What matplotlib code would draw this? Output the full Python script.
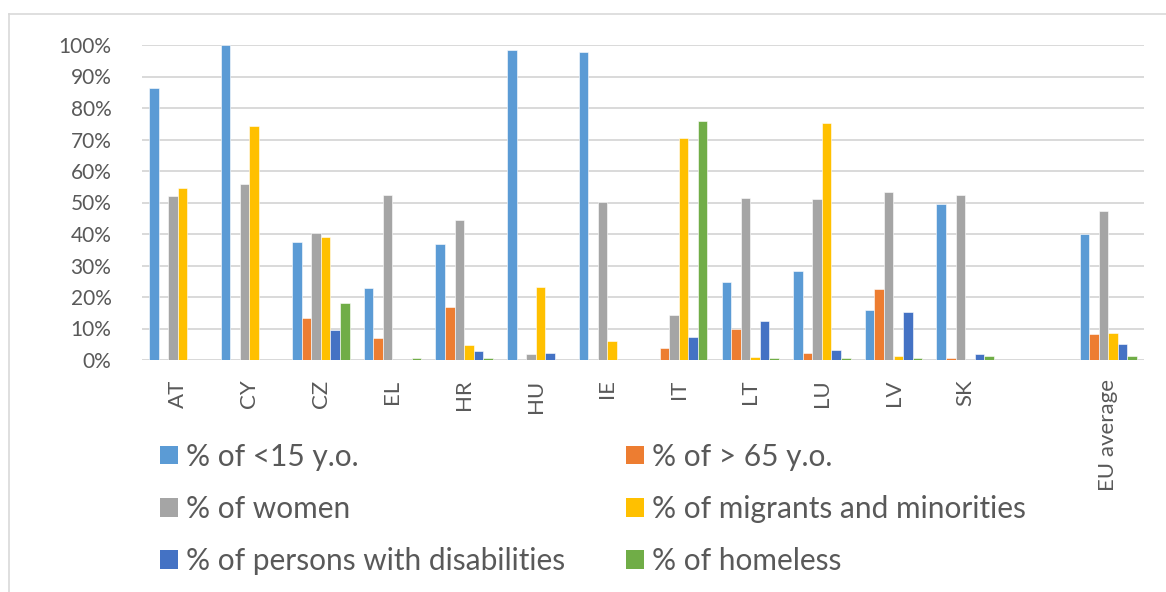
import matplotlib
matplotlib.use("Agg")
import matplotlib.pyplot as plt
from matplotlib.patches import Patch
from matplotlib.lines import Line2D
import numpy as np

plt.rcParams['font.family'] = ['Lato', 'DejaVu Sans']

countries = ["AT", "CY", "CZ", "EL", "HR", "HU", "IE", "IT", "LT", "LU", "LV", "SK", "", "EU average"]

series_names = [
    "% of <15 y.o.",
    "% of > 65 y.o.",
    "% of women",
    "% of migrants and minorities",
    "% of persons with disabilities",
    "% of homeless",
]

under_15 = [86.3, 100.0, 37.4, 22.8, 36.9, 98.3, 97.9, 0.0, 24.9, 28.4, 15.9, 49.4, 0.0, 40.0]
over_65 = [0.0, 0.0, 13.4, 6.9, 16.8, 0.0, 0.0, 3.8, 10.0, 2.2, 22.5, 0.5, 0.0, 8.2]
women = [52.0, 55.8, 40.4, 52.4, 44.6, 1.8, 50.3, 14.2, 51.5, 51.1, 53.2, 52.4, 0.0, 47.3]
migrants = [54.5, 74.2, 39.0, 0.0, 4.8, 23.2, 6.0, 70.5, 0.8, 75.1, 1.4, 0.0, 0.0, 8.6]
disabilities = [0.0, 0.0, 9.4, 0.0, 2.7, 2.1, 0.0, 7.3, 12.5, 3.1, 15.1, 1.8, 0.0, 5.2]
homeless = [0.0, 0.0, 18.0, 0.5, 0.5, 0.0, 0.0, 76.0, 0.5, 0.5, 0.5, 1.4, 0.0, 1.4]

colors = ["#5B9BD5", "#ED7D31", "#A5A5A5", "#FFC000", "#4472C4", "#70AD47"]
y_ticks = [0, 10, 20, 30, 40, 50, 60, 70, 80, 90, 100]

text_color = "#595959"
grid_color = "#D9D9D9"

W, H = 1166, 592
fig = plt.figure(figsize=(W / 100, H / 100), dpi=100)
ax = fig.add_axes([142 / W, 1 - 360 / H, (1144 - 142) / W, (360 - 45) / H])

all_series = [under_15, over_65, women, migrants, disabilities, homeless]
x = np.arange(len(countries))
bar_w = 0.8 / 6
for i, (vals, col) in enumerate(zip(all_series, colors)):
    offs = (i - 2.5) * bar_w
    ax.bar(x + offs, np.array(vals) / 100.0, width=bar_w, color=col,
           edgecolor="white", linewidth=0.4, zorder=3)

ax.set_xlim(-0.5, len(countries) - 0.5)
ax.set_ylim(0, 1.0)
ax.set_yticks(np.array(y_ticks) / 100.0)
ax.set_yticklabels([f"{t}%" for t in y_ticks])
ax.yaxis.grid(True, color=grid_color, linewidth=1.4, zorder=0)
ax.set_axisbelow(True)
for s in ax.spines.values():
    s.set_visible(False)
ax.axhline(0, color=grid_color, linewidth=1.4, zorder=1)

ax.set_xticks(x)
ax.set_xticklabels(countries, rotation=90, va="top", ha="center")
ax.tick_params(axis="both", length=0, colors=text_color)
ax.tick_params(axis="y", labelsize=15, pad=22)
ax.tick_params(axis="x", labelsize=16, pad=14)

# legend: two columns, read row by row
legend_kw = dict(loc="center left", frameon=False, fontsize=21.5, labelcolor=text_color,
                 handlelength=0.6, handleheight=0.6, handletextpad=0.27,
                 labelspacing=0.82, borderpad=0, borderaxespad=0)
col_left = [0, 2, 4]
col_right = [1, 3, 5]
for cols, x0 in ((col_left, 160), (col_right, 626)):
    handles = [Patch(facecolor=colors[k], edgecolor="none") for k in cols]
    labels = [series_names[k] for k in cols]
    fig.legend(handles, labels, bbox_to_anchor=(x0 / W, 1 - 509 / H), **legend_kw)

# chart area border
fig.add_artist(Line2D([8.5 / W, 1.0], [1 - 13.5 / H] * 2, color="#D9D9D9", linewidth=1.2))
fig.add_artist(Line2D([8.5 / W] * 2, [0, 1 - 13.5 / H], color="#D9D9D9", linewidth=1.2))

fig.savefig("out.png", dpi=100)
